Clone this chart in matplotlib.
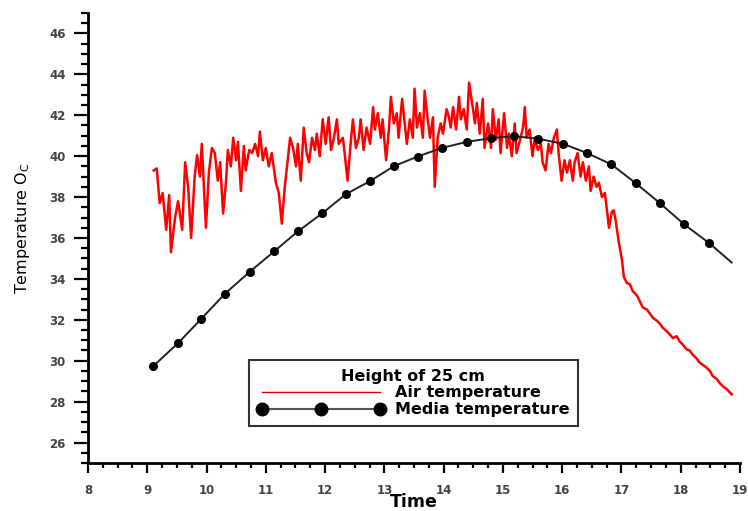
import numpy as np
import matplotlib
matplotlib.use('Agg')
import matplotlib.pyplot as plt
from matplotlib.lines import Line2D
from matplotlib.ticker import MultipleLocator

# Air temperature
air_time = [
    9.11, 9.16, 9.21, 9.26, 9.32, 9.37, 9.40, 9.47, 9.52, 9.59, 9.64, 9.69, 9.74,
    9.80, 9.84, 9.89, 9.92, 9.99, 10.04, 10.09, 10.14, 10.19, 10.23, 10.28, 10.33,
    10.36, 10.41, 10.45, 10.50, 10.53, 10.58, 10.63, 10.66, 10.72, 10.77, 10.82,
    10.87, 10.90, 10.95, 11.00, 11.05, 11.10, 11.17, 11.22, 11.27, 11.32, 11.37,
    11.41, 11.46, 11.51, 11.54, 11.59, 11.64, 11.69, 11.73, 11.78, 11.83, 11.86,
    11.91, 11.96, 12.01, 12.06, 12.10, 12.15, 12.20, 12.23, 12.30, 12.33, 12.38,
    12.44, 12.47, 12.52, 12.57, 12.60, 12.65, 12.70, 12.76, 12.81, 12.84, 12.89,
    12.94, 12.97, 13.03, 13.08, 13.11, 13.16, 13.21, 13.24, 13.30, 13.35, 13.38,
    13.43, 13.48, 13.51, 13.55, 13.60, 13.65, 13.68, 13.72, 13.77, 13.82, 13.85,
    13.90, 13.95, 13.99, 14.05, 14.09, 14.12, 14.16, 14.21, 14.26, 14.29, 14.34,
    14.39, 14.43, 14.48, 14.53, 14.56, 14.61, 14.66, 14.69, 14.75, 14.80, 14.83,
    14.88, 14.93, 14.96, 15.02, 15.07, 15.10, 15.15, 15.20, 15.23, 15.29, 15.34,
    15.37, 15.40, 15.45, 15.50, 15.54, 15.59, 15.64, 15.67, 15.72, 15.77, 15.81,
    15.86, 15.91, 15.94, 15.99, 16.04, 16.08, 16.13, 16.18, 16.21, 16.26, 16.31,
    16.35, 16.40, 16.45, 16.48, 16.53, 16.58, 16.62, 16.67, 16.72, 16.75, 16.79,
    16.84, 16.87, 16.90, 16.95, 17.01, 17.04, 17.09, 17.14, 17.19, 17.26, 17.31,
    17.36, 17.43, 17.48, 17.53, 17.60, 17.65, 17.70, 17.76, 17.81, 17.87, 17.93,
    17.98, 18.03, 18.10, 18.15, 18.20, 18.27, 18.32, 18.37, 18.44, 18.49, 18.54,
    18.61, 18.66, 18.71, 18.78, 18.86,
]
air_temp = [
    39.3, 39.4, 37.7, 38.2, 36.4, 38.1, 35.3, 37.0, 37.8, 36.4, 39.7, 38.5, 36.0,
    39.0, 40.05, 39.0, 40.6, 36.5, 39.2, 40.4, 40.15, 38.8, 39.7, 37.2, 38.8,
    40.3, 39.5, 40.9, 39.8, 40.7, 38.3, 40.5, 39.3, 40.3, 40.15, 40.6,
    40.0, 41.2, 39.8, 40.4, 39.5, 40.15, 38.7, 38.2, 36.7, 38.5, 39.8,
    40.9, 40.4, 39.5, 40.6, 38.8, 41.4, 40.15, 39.7, 40.9, 40.3, 41.1,
    40.0, 41.8, 40.6, 41.9, 40.3, 40.9, 41.8, 40.6, 40.9, 40.15, 38.8,
    40.9, 41.8, 40.4, 40.9, 41.8, 40.3, 41.4, 40.6, 42.4, 41.3, 42.1,
    40.9, 41.8, 39.8, 41.4, 42.9, 41.6, 42.1, 40.9, 42.8, 41.4, 40.6,
    41.8, 40.9, 43.3, 41.4, 42.1, 40.9, 43.2, 42.1, 40.9, 41.9, 38.5,
    40.9, 41.6, 41.1, 42.3, 41.9, 41.4, 42.4, 41.3, 42.9, 41.8, 42.3,
    41.3, 43.6, 42.6, 41.6, 42.6, 41.1, 42.8, 40.4, 41.6, 40.4, 42.3,
    40.8, 41.8, 40.15, 42.1, 40.4, 41.1, 40.0, 41.6, 40.15, 40.8, 41.4,
    42.4, 40.9, 41.3, 40.0, 40.9, 40.3, 40.6, 39.7, 39.3, 40.6, 40.15,
    40.9, 41.3, 40.15, 38.8, 39.8, 39.2, 39.8, 38.8, 39.7, 40.15, 39.0,
    39.7, 38.8, 39.5, 38.3, 39.0, 38.5, 38.7, 38.0, 38.2, 37.5, 36.5,
    37.3, 37.35, 36.9, 35.9, 34.9, 34.1, 33.8, 33.75, 33.4, 33.2, 32.9,
    32.6, 32.5, 32.3, 32.1, 31.95, 31.8, 31.6, 31.45, 31.3, 31.1, 31.2,
    30.95, 30.8, 30.55, 30.5, 30.3, 30.1, 29.9, 29.8, 29.65, 29.5, 29.25,
    29.1, 28.9, 28.75, 28.6, 28.35,
]

# Media temperature (markers), last point is the line end without a marker
media_time = [9.10, 9.52, 9.91, 10.31, 10.73, 11.14, 11.54, 11.95, 12.35, 12.76,
              13.16, 13.56, 13.97, 14.39, 14.80, 15.19, 15.60, 16.02, 16.42, 16.83,
              17.24, 17.65, 18.06, 18.48, 18.86]
media_temp = [29.73, 30.86, 32.04, 33.27, 34.35, 35.34, 36.32, 37.2, 38.14, 38.78,
              39.51, 39.98, 40.40, 40.7, 40.88, 40.98, 40.85, 40.6, 40.15, 39.6,
              38.68, 37.7, 36.66, 35.75, 34.8]

plt.rcParams['font.family'] = ['DejaVu Sans']

fig = plt.figure(figsize=(7.48, 5.11), dpi=100)
ax = fig.add_axes([0.1176, 0.094, 0.8717, 0.8806])

ax.plot(air_time, air_temp, color='#ff0000', lw=1.8)
ax.plot(media_time, media_temp, color='#222222', lw=1.4,
        marker='o', markersize=5.5, markerfacecolor='black', markeredgecolor='black',
        markevery=list(range(len(media_time) - 1)))

ax.set_xlim(8, 19)
ax.set_ylim(25, 47)
ax.xaxis.set_major_locator(MultipleLocator(1))
ax.xaxis.set_minor_locator(MultipleLocator(0.25))
ax.yaxis.set_minor_locator(MultipleLocator(0.5))
ax.set_yticks(np.arange(26, 47, 2))

for s in ['top', 'right']:
    ax.spines[s].set_visible(False)
for s in ['left', 'bottom']:
    ax.spines[s].set_linewidth(2)

ax.tick_params(axis='x', which='major', direction='out', length=7, width=1.6,
               labelsize=8.5, pad=8)
ax.tick_params(axis='x', which='minor', direction='out', length=3.5, width=1.6)
ax.tick_params(axis='y', which='major', direction='out', length=10, width=1.6,
               labelsize=8.5, pad=6)
ax.tick_params(axis='y', which='minor', direction='out', length=5, width=1.6)
for lab in ax.get_xticklabels() + ax.get_yticklabels():
    lab.set_fontweight('bold')
    lab.set_color('#444444')

ax.set_xlabel('Time', fontsize=12.5, fontweight='bold', labelpad=-3)
ax.set_ylabel('Temperature O$_\\mathregular{C}$', fontsize=11.5)
ax.yaxis.set_label_coords(-0.086, 0.522)

h_air = Line2D([], [], color='#dd0000', lw=1)
h_media = Line2D([], [], color='#555555', lw=1.5, marker='o', markersize=9,
                 markerfacecolor='black', markeredgecolor='black')
leg = ax.legend([h_air, h_media], ['Air temperature', 'Media temperature'],
                title='Height of 25 cm', loc='center', bbox_to_anchor=(0.499, 0.1556),
                numpoints=3, handlelength=8.0, handletextpad=0.6, labelspacing=0.12,
                borderpad=0.55, borderaxespad=0, fancybox=False, framealpha=1,
                prop={'weight': 'bold', 'size': 11.5})
leg.get_title().set_fontweight('bold')
leg.get_title().set_fontsize(11.5)
leg.get_frame().set_edgecolor('#333333')
leg.get_frame().set_linewidth(1.5)

fig.savefig('out.png', dpi=100)
